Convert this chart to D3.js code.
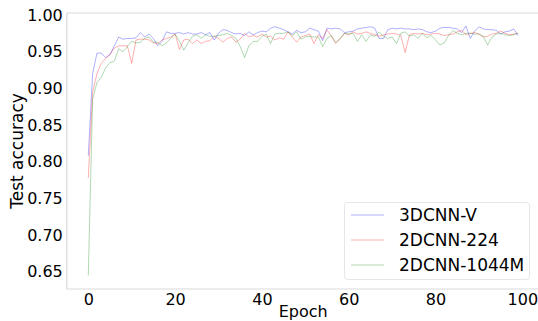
<!DOCTYPE html>
<html><head><meta charset="utf-8">
<script src="https://cdn.jsdelivr.net/npm/d3@7"></script>
<style>
body{margin:0;background:#fff;}
svg{display:block;font-family:"DejaVu Sans",sans-serif;}
</style></head>
<body><svg id="c" width="538" height="321"></svg>
<script>
const seriesNames = ["3DCNN-V", "2DCNN-224", "2DCNN-1044M"];
const colors = ["#0000ff", "#ff0000", "#008000"];
const yTicks = [0.65, 0.70, 0.75, 0.80, 0.85, 0.90, 0.95, 1.00];
const xTicks = [0, 20, 40, 60, 80, 100];

const cnn3dV = [0.808,0.920,0.948,0.948,0.942,0.946,0.958,0.970,0.967,0.968,
0.968,0.969,0.976,0.970,0.974,0.968,0.958,0.964,0.977,0.975,
0.975,0.976,0.974,0.976,0.974,0.974,0.976,0.973,0.976,0.966,
0.975,0.980,0.979,0.976,0.974,0.975,0.972,0.977,0.973,0.976,
0.978,0.977,0.982,0.984,0.982,0.980,0.977,0.974,0.979,0.976,
0.977,0.982,0.980,0.978,0.965,0.982,0.981,0.982,0.981,0.976,
0.977,0.978,0.981,0.982,0.983,0.984,0.982,0.968,0.968,0.980,
0.982,0.981,0.982,0.981,0.981,0.980,0.981,0.980,0.977,0.976,
0.978,0.982,0.983,0.983,0.982,0.981,0.976,0.985,0.968,0.978,
0.984,0.981,0.980,0.980,0.979,0.974,0.977,0.978,0.981,0.972];

const cnn2d224 = [0.778,0.895,0.920,0.934,0.941,0.946,0.955,0.958,0.958,0.958,
0.934,0.966,0.967,0.967,0.966,0.962,0.961,0.966,0.968,0.970,
0.974,0.953,0.966,0.967,0.961,0.966,0.961,0.964,0.965,0.971,
0.968,0.963,0.968,0.970,0.963,0.967,0.975,0.970,0.972,0.970,
0.974,0.970,0.971,0.966,0.969,0.967,0.977,0.970,0.963,0.970,
0.972,0.974,0.961,0.973,0.968,0.980,0.971,0.961,0.967,0.975,
0.973,0.977,0.974,0.975,0.977,0.975,0.973,0.971,0.973,0.974,
0.975,0.974,0.972,0.949,0.973,0.975,0.974,0.975,0.973,0.974,
0.975,0.974,0.972,0.973,0.974,0.977,0.979,0.973,0.975,0.976,
0.974,0.970,0.971,0.974,0.975,0.978,0.975,0.973,0.974,0.975];

const cnn2d1044M = [0.645,0.885,0.908,0.915,0.928,0.935,0.937,0.954,0.950,0.957,
0.964,0.962,0.963,0.968,0.970,0.963,0.963,0.958,0.962,0.968,
0.974,0.964,0.952,0.962,0.971,0.973,0.968,0.973,0.971,0.971,
0.972,0.973,0.975,0.972,0.968,0.957,0.942,0.958,0.964,0.964,
0.971,0.974,0.961,0.974,0.975,0.975,0.977,0.972,0.977,0.967,
0.970,0.971,0.970,0.970,0.957,0.968,0.972,0.963,0.968,0.975,
0.974,0.975,0.964,0.973,0.964,0.973,0.971,0.977,0.971,0.968,
0.970,0.961,0.975,0.977,0.971,0.973,0.968,0.975,0.969,0.972,
0.966,0.959,0.962,0.972,0.979,0.975,0.973,0.975,0.975,0.974,
0.974,0.971,0.959,0.970,0.974,0.975,0.973,0.972,0.973,0.975];

const allSeries = [cnn3dV, cnn2d224, cnn2d1044M];

const svg = d3.select("#c");
const pL = 66.8, pR = 539.5, pT = 13, pB = 289;
const x = d3.scaleLinear().domain([-4.95, 103.95]).range([pL, pR]);
const y = d3.scaleLinear().domain([0.6265, 1.0027]).range([pB, pT]);

// spines
const spine = "#d9d9d9";
svg.append("line").attr("x1", pL).attr("x2", pL).attr("y1", pT).attr("y2", pB).attr("stroke", spine).attr("stroke-width", 1.2);
svg.append("line").attr("x1", pL).attr("x2", pR).attr("y1", pB).attr("y2", pB).attr("stroke", spine).attr("stroke-width", 1.2);
svg.append("line").attr("x1", pL).attr("x2", pR).attr("y1", pT).attr("y2", pT).attr("stroke", spine).attr("stroke-width", 1.2);

// axes
const xAxis = d3.axisBottom(x).tickValues(xTicks).tickSize(0).tickPadding(5).tickFormat(d3.format("d"));
const gx = svg.append("g").attr("transform", `translate(0,${pB})`).call(xAxis);
gx.select(".domain").remove();
gx.selectAll("text").attr("font-size", 16).attr("fill", "#000").attr("font-family", "DejaVu Sans");

const yAxis = d3.axisLeft(y).tickValues(yTicks).tickSize(0).tickPadding(4).tickFormat(d3.format(".2f"));
const gy = svg.append("g").attr("transform", `translate(${pL},0)`).call(yAxis);
gy.select(".domain").remove();
gy.selectAll("text").attr("font-size", 16).attr("fill", "#000").attr("font-family", "DejaVu Sans");

// lines
const line = d3.line().x((d, i) => x(i)).y(d => y(d));
allSeries.forEach((s, k) => {
  svg.append("path").datum(s).attr("d", line).attr("fill", "none")
    .attr("stroke", colors[k]).attr("stroke-opacity", 0.35).attr("stroke-width", 0.9);
});

// labels
svg.append("text").attr("x", (pL + pR) / 2).attr("y", 317).attr("text-anchor", "middle")
  .attr("font-size", 16).text("Epoch");
svg.append("text").attr("transform", `translate(23,${(pT + pB) / 2}) rotate(-90)`)
  .attr("text-anchor", "middle").attr("font-size", 17).text("Test accuracy");

// legend
const lg = svg.append("g");
lg.append("rect").attr("x", 344.5).attr("y", 202.5).attr("width", 185).attr("height", 77).attr("rx", 3)
  .attr("fill", "#fff").attr("fill-opacity", 0.8).attr("stroke", "#e6e6e6");
seriesNames.forEach((n, k) => {
  const yy = 215 + k * 25;
  lg.append("line").attr("x1", 351).attr("x2", 384).attr("y1", yy).attr("y2", yy)
    .attr("stroke", colors[k]).attr("stroke-opacity", 0.35).attr("stroke-width", 0.9);
  lg.append("text").attr("x", 399).attr("y", yy + 6).attr("font-size", 17).text(n);
});
</script></body></html>
